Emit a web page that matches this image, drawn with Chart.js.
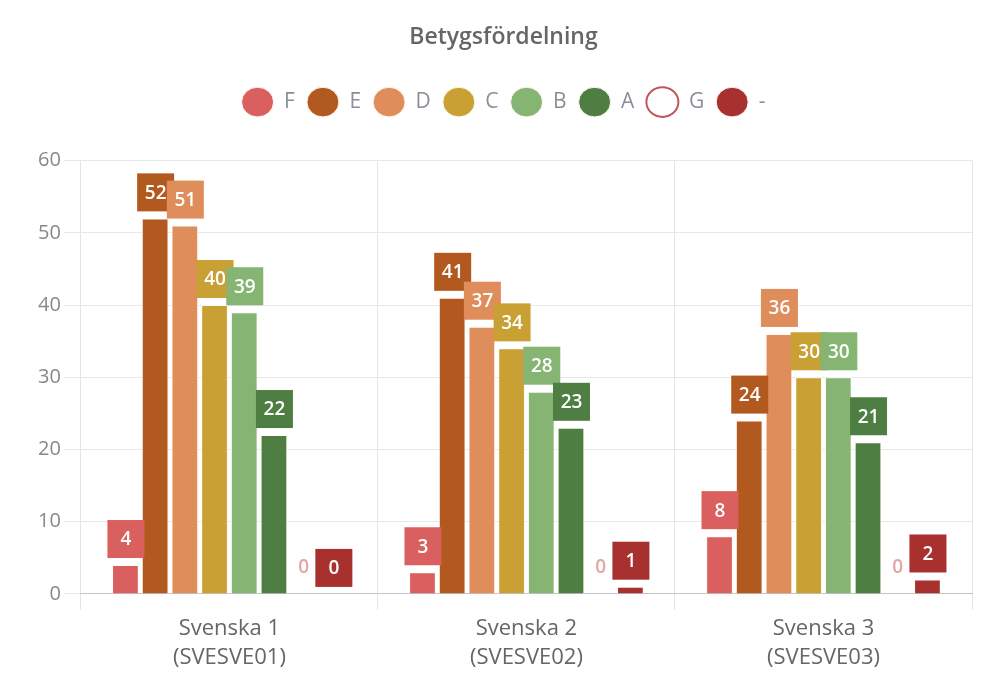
<!DOCTYPE html>
<html>
<head>
<meta charset="utf-8">
<script src="https://cdn.jsdelivr.net/npm/chart.js@4.4.1/dist/chart.umd.min.js"></script>
<style>
  html, body { margin: 0; padding: 0; background: #fff; }
  #wrap { position: relative; width: 994px; height: 675px; }
</style>
</head>
<body>
<div id="wrap"><canvas id="betyg"></canvas></div>
<script>
// kurser och betyg
const kurser = [['Svenska 1', '(SVESVE01)'], ['Svenska 2', '(SVESVE02)'], ['Svenska 3', '(SVESVE03)']];
const betyg = ['F', 'E', 'D', 'C', 'B', 'A', 'G', '-'];

const antalF = [4, 3, 8];
const antalE = [52, 41, 24];
const antalD = [51, 37, 36];
const antalC = [40, 34, 30];
const antalB = [39, 28, 30];
const antalA = [22, 23, 21];
const antalG = [0, 0, 0];
const antalStreck = [0, 1, 2];

const yTicks = [0, 10, 20, 30, 40, 50, 60];

const farger = ['#d9605e', '#b2591f', '#df8d5a', '#c9a033', '#85b473', '#4f7e43', '#ffffff', '#a8302f'];
const allaVarden = [antalF, antalE, antalD, antalC, antalB, antalA, antalG, antalStreck];

const datasets = betyg.map((b, i) => ({
    label: b,
    data: allaVarden[i],
    backgroundColor: farger[i],
    borderColor: i === 6 ? '#c4545a' : '#fffaf2',
    borderWidth: i === 6 ? 2 : 1,
    categoryPercentage: 0.8,
    barPercentage: 0.9
}));

// etiketter i färgade rutor ovanför staplarna
const etikettPlugin = {
    id: 'etiketter',
    afterDatasetsDraw(chart) {
        const ctx = chart.ctx;
        ctx.save();
        ctx.font = '600 19px "Open Sans"';
        ctx.textAlign = 'center';
        ctx.textBaseline = 'middle';
        chart.data.datasets.forEach((ds, di) => {
            const meta = chart.getDatasetMeta(di);
            meta.data.forEach((bar, i) => {
                const v = ds.data[i];
                const bottom = bar.y - 7;
                const top = bottom - 38;
                if (di === 6) {
                    ctx.fillStyle = '#e3a6a6';
                    ctx.fillText(String(v), bar.x, (top + bottom) / 2);
                    return;
                }
                ctx.fillStyle = ds.backgroundColor;
                ctx.fillRect(bar.x - 18, top, 37, 38);
                ctx.fillStyle = '#ffffff';
                ctx.fillText(String(v), bar.x + 0.5, (top + bottom) / 2 + 1);
            });
        });
        ctx.restore();
    }
};

// extra luft under legenden
const legendLuft = {
    id: 'legendLuft',
    beforeInit(chart) {
        const fit = chart.legend.fit;
        chart.legend.fit = function () {
            fit.bind(chart.legend)();
            this.height += 38;
        };
    }
};

new Chart(document.getElementById('betyg'), {
    type: 'bar',
    data: { labels: kurser, datasets: datasets },
    plugins: [etikettPlugin, legendLuft],
    options: {
        responsive: true,
        maintainAspectRatio: false,
        animation: false,
        layout: { padding: { left: 35, right: 22, top: 0, bottom: -1 } },
        plugins: {
            title: {
                display: true,
                text: 'Betygsfördelning',
                color: '#666',
                font: { family: 'Open Sans', size: 23, weight: '600' },
                padding: { top: 24, bottom: 28 }
            },
            legend: {
                labels: {
                    usePointStyle: true,
                    pointStyle: 'circle',
                    pointStyleWidth: 32,
                    color: '#8a8e98',
                    font: { family: 'Open Sans', size: 21 },
                    padding: 12
                }
            },
            tooltip: { enabled: false }
        },
        scales: {
            x: {
                grid: { color: '#e4e4e8', tickLength: 16, offset: true },
                border: { color: '#c4c4cc' },
                ticks: {
                    color: '#666',
                    font: { family: 'Open Sans', size: 22, lineHeight: 1.32 },
                    padding: 4
                }
            },
            y: {
                min: 0,
                max: 60,
                afterBuildTicks(axis) { axis.ticks = yTicks.map(v => ({ value: v })); },
                grid: { color: '#e8e8e8', tickLength: 17 },
                border: { display: false },
                ticks: {
                    color: '#888',
                    font: { family: 'Open Sans', size: 20 },
                    padding: 3
                }
            }
        }
    }
});
</script>
</body>
</html>
